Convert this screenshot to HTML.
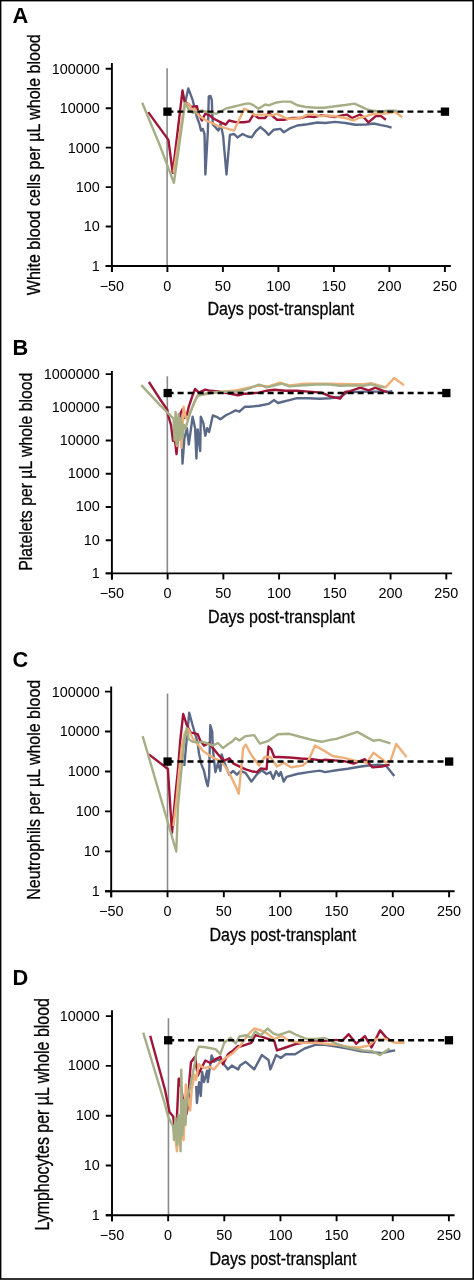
<!DOCTYPE html><html><head><meta charset="utf-8"><style>html,body{margin:0;padding:0;background:#fff;overflow:hidden;}svg{display:block;}text{filter:grayscale(1);}text{font-family:"Liberation Sans",sans-serif;}</style></head><body>
<svg width="474" height="1280" viewBox="0 0 474 1280">
<rect x="0" y="0" width="474" height="1280" fill="#fff"/>
<text transform="translate(12.5,22.60) scale(0.97,1)" x="0" y="0" font-size="22.5" font-weight="bold">A</text>
<text transform="translate(39.80,295.20) rotate(-90)" x="0" y="0" font-size="18.41" stroke="#000" stroke-width="0.3" textLength="261.00" lengthAdjust="spacingAndGlyphs">White blood cells per µL whole blood</text>
<text x="207.40" y="314.90" font-size="19" stroke="#000" stroke-width="0.3" textLength="146.80" lengthAdjust="spacingAndGlyphs">Days post-transplant</text>
<line x1="167.10" y1="68.20" x2="167.10" y2="266.00" stroke="#8a8a8a" stroke-width="1.6"/>
<polyline points="185.3,101.9 188.3,88.4 192.7,100.2 196.9,117.0 199.4,123.8 201.1,130.6 202.8,128.9 204.5,134.0 205.4,174.5 207.8,132.3 208.8,96.5 210.5,96.0 211.8,100.0 212.3,114.5 212.9,124.7 215.4,127.2 218.4,130.6 220.6,123.9 223.1,135.7 226.5,174.5 229.9,134.9 234.1,134.0 237.4,137.4 242.5,134.0 247.6,136.5 251.8,137.2 256.0,131.0 260.3,127.1 265.2,131.0 268.6,134.9 273.6,129.8 280.4,128.9 283.8,132.3 290.5,128.1 297.3,125.5 307.4,124.3 317.5,122.5 325.0,123.0 335.1,121.9 345.3,123.0 355.4,124.7 366.3,124.5 373.7,123.5 381.1,125.1 386.4,126.1 391.6,127.7" fill="none" stroke="#5b6988" stroke-width="2.4" stroke-linejoin="round"/>
<polyline points="148.2,112.1 168.4,139.9 172.7,172.8 182.5,90.5 184.6,101.9 188.4,104.0 191.0,107.0 196.9,106.1 198.6,113.7 201.9,120.4 205.3,113.7 209.5,115.4 213.8,118.8 218.9,121.4 225.6,124.7 229.0,120.5 235.8,122.2 244.2,122.2 249.3,121.4 253.4,114.6 258.4,118.0 265.2,118.0 268.6,112.9 277.0,119.7 283.8,119.7 292.2,118.0 300.6,118.0 307.4,116.3 314.1,117.1 320.9,115.4 330.0,116.3 335.1,117.1 341.9,115.4 346.9,114.6 352.0,118.0 360.0,114.5 364.2,117.7 368.4,122.4 375.8,116.1 381.1,116.1 385.8,119.8" fill="none" stroke="#9e1538" stroke-width="2.4" stroke-linejoin="round"/>
<polyline points="173.5,172.8 184.5,103.6 187.6,103.6 190.1,105.3 191.0,109.5 194.3,108.6 196.9,112.8 199.4,116.2 203.6,118.8 207.8,121.3 212.1,123.0 217.2,125.6 225.6,128.1 234.1,130.6 244.2,108.7 249.3,111.2 255.0,115.4 258.4,114.6 265.2,114.6 271.9,115.4 277.0,113.8 282.1,116.3 287.1,118.8 293.9,118.8 300.6,118.0 307.4,114.6 314.1,114.6 320.9,116.3 325.0,115.4 335.1,116.3 345.3,118.0 353.7,120.5 358.8,118.0 366.3,116.1 372.7,114.0 377.9,113.5 384.3,113.5 390.6,112.9 394.8,111.9 398.0,114.0 402.2,117.2" fill="none" stroke="#eeb07a" stroke-width="2.4" stroke-linejoin="round"/>
<polyline points="142.2,102.8 160.0,145.8 173.9,182.9 185.1,103.0 189.3,110.3 192.7,112.8 196.9,112.0 201.9,110.3 207.0,112.0 212.1,112.8 216.4,113.8 225.6,108.7 232.4,107.0 239.1,105.3 245.9,103.6 250.0,103.6 253.4,105.3 258.4,108.7 265.2,104.5 268.6,105.3 275.3,102.8 282.1,101.6 290.5,101.6 297.3,105.3 305.7,107.0 315.8,107.8 324.3,107.8 335.1,106.2 345.3,105.0 354.5,103.6 360.0,106.1 366.3,109.2 372.7,110.8 381.1,111.4 387.4,110.8 396.9,110.8" fill="none" stroke="#a5ae85" stroke-width="2.4" stroke-linejoin="round"/>
<line x1="167.40" y1="111.60" x2="444.90" y2="111.60" stroke="#000" stroke-width="2.4" stroke-dasharray="6,4"/>
<rect x="163.30" y="107.50" width="8.3" height="8.3" fill="#000"/>
<rect x="440.80" y="107.50" width="8.3" height="8.3" fill="#000"/>
<path d="M111.90,63.00V272.00M105.70,266.00H450.80" stroke="#000" stroke-width="1.9" fill="none"/>
<path d="M105.70,266.00H111.90M105.70,226.55H111.90M105.70,187.10H111.90M105.70,147.65H111.90M105.70,108.20H111.90M105.70,68.75H111.90M111.90,266.00V272.00M167.40,266.00V272.00M222.90,266.00V272.00M278.40,266.00V272.00M333.90,266.00V272.00M389.40,266.00V272.00M444.90,266.00V272.00" stroke="#000" stroke-width="1.9" fill="none"/>
<text x="91.83" y="270.90" font-size="14.2" textLength="8.02" lengthAdjust="spacingAndGlyphs">1</text>
<text x="83.81" y="231.45" font-size="14.2" textLength="16.03" lengthAdjust="spacingAndGlyphs">10</text>
<text x="75.80" y="192.00" font-size="14.2" textLength="24.05" lengthAdjust="spacingAndGlyphs">100</text>
<text x="67.78" y="152.55" font-size="14.2" textLength="32.07" lengthAdjust="spacingAndGlyphs">1000</text>
<text x="59.76" y="113.10" font-size="14.2" textLength="40.08" lengthAdjust="spacingAndGlyphs">10000</text>
<text x="51.75" y="73.65" font-size="14.2" textLength="48.10" lengthAdjust="spacingAndGlyphs">100000</text>
<text x="99.67" y="290.50" font-size="14.2" textLength="24.46" lengthAdjust="spacingAndGlyphs">−50</text>
<text x="163.39" y="290.50" font-size="14.2" textLength="8.02" lengthAdjust="spacingAndGlyphs">0</text>
<text x="214.88" y="290.50" font-size="14.2" textLength="16.03" lengthAdjust="spacingAndGlyphs">50</text>
<text x="266.37" y="290.50" font-size="14.2" textLength="24.05" lengthAdjust="spacingAndGlyphs">100</text>
<text x="321.87" y="290.50" font-size="14.2" textLength="24.05" lengthAdjust="spacingAndGlyphs">150</text>
<text x="377.37" y="290.50" font-size="14.2" textLength="24.05" lengthAdjust="spacingAndGlyphs">200</text>
<text x="432.87" y="290.50" font-size="14.2" textLength="24.05" lengthAdjust="spacingAndGlyphs">250</text>
<text transform="translate(12.5,354.80) scale(0.97,1)" x="0" y="0" font-size="22.5" font-weight="bold">B</text>
<text transform="translate(32.10,570.80) rotate(-90)" x="0" y="0" font-size="19.13" stroke="#000" stroke-width="0.3" textLength="198.10" lengthAdjust="spacingAndGlyphs">Platelets per µL whole blood</text>
<text x="208.10" y="622.80" font-size="19" stroke="#000" stroke-width="0.3" textLength="146.80" lengthAdjust="spacingAndGlyphs">Days post-transplant</text>
<line x1="167.33" y1="376.30" x2="167.33" y2="573.40" stroke="#8a8a8a" stroke-width="1.6"/>
<polyline points="181.8,435.8 182.5,463.6 184.4,438.3 186.9,428.2 188.8,444.6 192.6,416.8 195.1,428.2 196.4,458.5 197.7,429.4 200.2,451.0 200.8,416.8 203.4,423.1 205.3,435.8 207.2,428.2 209.1,432.0 212.8,415.5 216.6,416.8 220.4,419.3 225.5,415.5 230.6,413.0 235.6,410.4 239.4,411.7 245.0,406.6 249.5,406.8 259.0,405.8 268.5,403.9 274.2,400.1 278.0,403.0 281.8,402.0 289.4,400.1 297.0,398.2 308.4,398.2 319.7,398.8 330.0,398.2 340.0,397.0 346.8,392.8 356.9,391.9 367.0,391.6 377.1,391.6 389.0,391.6 392.3,391.1" fill="none" stroke="#5b6988" stroke-width="2.4" stroke-linejoin="round"/>
<polyline points="148.9,382.0 160.0,399.2 167.3,409.8 168.2,415.5 171.0,425.0 173.0,440.8 174.5,436.0 176.5,454.1 178.5,432.0 180.6,413.0 182.5,409.2 184.0,418.0 187.0,414.4 188.8,406.6 192.6,395.3 195.1,388.9 198.9,392.7 205.3,389.6 210.3,390.8 217.9,391.5 225.5,392.7 231.8,394.0 238.2,395.3 245.0,393.7 249.5,393.5 259.0,392.6 266.6,390.7 274.2,389.7 285.6,390.7 297.0,390.7 308.4,391.6 321.6,392.6 330.0,396.4 340.0,398.7 345.1,392.0 350.1,391.1 355.2,389.4 360.3,387.7 368.7,390.3 375.4,387.7 383.9,391.1 387.3,392.0" fill="none" stroke="#9e1538" stroke-width="2.4" stroke-linejoin="round"/>
<polyline points="175.0,425.0 176.9,446.0 179.0,420.0 181.5,448.0 183.6,406.8 185.6,416.8 187.5,420.0 192.0,408.0 197.7,395.3 204.0,394.5 215.0,392.5 225.0,391.5 235.6,390.4 245.0,388.5 249.5,387.4 259.0,385.5 268.5,386.4 279.9,382.6 289.4,385.5 304.6,383.6 330.0,383.6 340.0,384.0 353.5,384.3 363.6,384.3 371.2,383.2 378.8,385.4 385.6,387.4 394.0,378.1 404.1,385.2" fill="none" stroke="#eeb07a" stroke-width="2.4" stroke-linejoin="round"/>
<polyline points="141.3,385.1 160.0,405.1 173.5,418.6 174.5,440.0 175.6,411.9 177.0,445.0 178.5,414.0 179.5,440.0 181.0,418.0 182.5,438.0 184.0,425.0 185.3,428.8 188.0,420.0 190.1,413.0 195.1,400.3 197.7,395.9 204.0,394.0 210.3,392.7 217.9,392.3 225.5,391.7 233.1,391.7 240.0,391.2 249.5,388.3 259.0,384.5 266.6,387.4 274.2,385.5 281.8,383.6 289.4,386.4 300.8,385.5 316.0,384.5 330.0,384.5 340.0,385.7 353.5,385.4 363.6,385.7 371.2,384.3 378.8,386.5 384.7,387.4" fill="none" stroke="#a5ae85" stroke-width="2.4" stroke-linejoin="round"/>
<line x1="167.63" y1="393.00" x2="446.30" y2="393.00" stroke="#000" stroke-width="2.4" stroke-dasharray="6,4"/>
<rect x="163.53" y="388.90" width="8.3" height="8.3" fill="#000"/>
<rect x="442.20" y="388.90" width="8.3" height="8.3" fill="#000"/>
<path d="M111.90,371.00V579.40M105.70,573.40H452.10" stroke="#000" stroke-width="1.9" fill="none"/>
<path d="M105.70,573.40H111.90M105.70,540.18H111.90M105.70,506.96H111.90M105.70,473.74H111.90M105.70,440.52H111.90M105.70,407.30H111.90M105.70,374.08H111.90M111.90,573.40V579.40M167.63,573.40V579.40M223.37,573.40V579.40M279.10,573.40V579.40M334.83,573.40V579.40M390.57,573.40V579.40M446.30,573.40V579.40" stroke="#000" stroke-width="1.9" fill="none"/>
<text x="91.83" y="577.90" font-size="14.2" textLength="8.02" lengthAdjust="spacingAndGlyphs">1</text>
<text x="83.81" y="544.68" font-size="14.2" textLength="16.03" lengthAdjust="spacingAndGlyphs">10</text>
<text x="75.80" y="511.46" font-size="14.2" textLength="24.05" lengthAdjust="spacingAndGlyphs">100</text>
<text x="67.78" y="478.24" font-size="14.2" textLength="32.07" lengthAdjust="spacingAndGlyphs">1000</text>
<text x="59.76" y="445.02" font-size="14.2" textLength="40.08" lengthAdjust="spacingAndGlyphs">10000</text>
<text x="51.75" y="411.80" font-size="14.2" textLength="48.10" lengthAdjust="spacingAndGlyphs">100000</text>
<text x="43.73" y="378.58" font-size="14.2" textLength="56.12" lengthAdjust="spacingAndGlyphs">1000000</text>
<text x="99.67" y="597.90" font-size="14.2" textLength="24.46" lengthAdjust="spacingAndGlyphs">−50</text>
<text x="163.62" y="597.90" font-size="14.2" textLength="8.02" lengthAdjust="spacingAndGlyphs">0</text>
<text x="215.35" y="597.90" font-size="14.2" textLength="16.03" lengthAdjust="spacingAndGlyphs">50</text>
<text x="267.07" y="597.90" font-size="14.2" textLength="24.05" lengthAdjust="spacingAndGlyphs">100</text>
<text x="322.81" y="597.90" font-size="14.2" textLength="24.05" lengthAdjust="spacingAndGlyphs">150</text>
<text x="378.54" y="597.90" font-size="14.2" textLength="24.05" lengthAdjust="spacingAndGlyphs">200</text>
<text x="434.27" y="597.90" font-size="14.2" textLength="24.05" lengthAdjust="spacingAndGlyphs">250</text>
<text transform="translate(12.5,666.80) scale(0.97,1)" x="0" y="0" font-size="22.5" font-weight="bold">C</text>
<text transform="translate(40.00,899.70) rotate(-90)" x="0" y="0" font-size="18.84" stroke="#000" stroke-width="0.3" textLength="219.90" lengthAdjust="spacingAndGlyphs">Neutrophils per µL whole blood</text>
<text x="209.50" y="940.70" font-size="19" stroke="#000" stroke-width="0.3" textLength="146.70" lengthAdjust="spacingAndGlyphs">Days post-transplant</text>
<line x1="167.52" y1="693.60" x2="167.52" y2="891.30" stroke="#8a8a8a" stroke-width="1.6"/>
<polyline points="184.3,766.0 185.5,752.0 189.2,712.7 192.6,725.3 197.7,743.0 198.9,753.2 201.5,764.6 204.0,770.9 206.5,782.3 207.8,786.1 209.1,775.9 210.3,725.3 212.2,731.6 212.8,748.1 215.4,772.2 217.9,763.3 220.4,770.9 221.7,754.4 224.2,762.0 226.8,768.4 229.3,774.7 233.1,770.9 236.9,774.7 240.7,770.9 245.7,773.1 251.4,781.6 257.1,774.0 261.8,770.2 266.6,774.0 270.4,772.1 273.2,778.8 276.1,771.2 278.9,775.9 280.8,772.1 283.7,781.6 286.5,776.9 297.0,774.0 308.4,772.1 319.7,770.6 325.0,772.1 336.4,770.2 347.8,768.7 359.2,766.8 368.7,765.5 378.2,764.6 385.8,765.5 394.3,775.9" fill="none" stroke="#5b6988" stroke-width="2.4" stroke-linejoin="round"/>
<polyline points="148.9,754.4 167.9,769.0 172.0,833.0 175.5,793.8 177.9,770.3 180.2,741.0 183.2,714.0 186.9,725.3 190.7,732.9 192.6,732.9 197.7,734.2 200.2,740.5 204.0,745.6 209.1,743.0 214.1,749.4 219.2,755.7 224.2,760.8 229.3,758.2 233.1,763.3 238.2,765.8 245.7,769.3 251.4,771.2 257.1,772.1 260.9,768.4 266.6,769.3 268.5,746.5 271.3,749.4 274.2,757.0 278.0,757.0 289.4,757.5 300.8,758.5 312.1,759.2 321.6,760.4 325.0,759.8 334.5,760.4 344.0,761.1 353.5,763.6 364.9,759.2 372.5,767.4 382.0,766.5 389.6,764.6" fill="none" stroke="#9e1538" stroke-width="2.4" stroke-linejoin="round"/>
<polyline points="173.5,826.0 176.5,800.0 179.0,772.0 182.0,745.0 185.0,732.0 188.2,729.1 192.6,738.0 197.7,744.3 202.7,750.6 207.8,754.4 214.1,758.2 220.4,760.8 225.5,767.1 230.6,775.9 235.6,786.1 238.8,793.7 240.7,773.4 243.2,748.1 245.7,744.6 251.4,755.0 259.0,765.5 264.7,757.0 270.4,757.0 277.0,766.5 283.7,762.7 291.3,767.4 302.7,765.5 308.4,760.8 315.0,745.6 321.6,749.4 325.0,751.3 332.6,756.0 344.0,757.9 355.4,760.8 366.8,762.7 373.4,752.8 382.0,758.9 385.8,762.7 390.5,760.8 396.2,744.0 406.6,757.0" fill="none" stroke="#eeb07a" stroke-width="2.4" stroke-linejoin="round"/>
<polyline points="142.6,736.1 147.7,753.2 176.3,851.5 178.0,806.0 181.4,770.3 184.3,741.0 186.7,728.0 188.8,739.2 192.6,741.8 197.7,742.4 202.7,741.8 207.8,743.7 212.8,745.6 217.9,743.0 223.0,748.1 228.0,744.3 231.8,741.8 235.6,738.0 239.4,740.5 245.7,736.1 254.2,735.1 259.9,743.7 268.5,740.8 278.0,734.2 289.4,733.8 300.8,737.0 312.1,739.9 321.6,741.8 330.0,739.9 336.4,738.9 347.8,735.1 357.3,731.9 364.9,736.1 373.4,740.8 379.1,739.9 390.5,743.3" fill="none" stroke="#a5ae85" stroke-width="2.4" stroke-linejoin="round"/>
<line x1="167.52" y1="761.50" x2="449.10" y2="761.50" stroke="#000" stroke-width="2.4" stroke-dasharray="6,4"/>
<rect x="163.42" y="757.40" width="8.3" height="8.3" fill="#000"/>
<rect x="445.00" y="757.40" width="8.3" height="8.3" fill="#000"/>
<path d="M111.20,686.60V897.30M105.00,891.30H454.60" stroke="#000" stroke-width="1.9" fill="none"/>
<path d="M105.00,891.30H111.20M105.00,851.36H111.20M105.00,811.42H111.20M105.00,771.48H111.20M105.00,731.54H111.20M105.00,691.60H111.20M111.20,891.30V897.30M167.52,891.30V897.30M223.83,891.30V897.30M280.15,891.30V897.30M336.47,891.30V897.30M392.78,891.30V897.30M449.10,891.30V897.30" stroke="#000" stroke-width="1.9" fill="none"/>
<text x="91.83" y="896.20" font-size="14.2" textLength="8.02" lengthAdjust="spacingAndGlyphs">1</text>
<text x="83.81" y="856.26" font-size="14.2" textLength="16.03" lengthAdjust="spacingAndGlyphs">10</text>
<text x="75.80" y="816.32" font-size="14.2" textLength="24.05" lengthAdjust="spacingAndGlyphs">100</text>
<text x="67.78" y="776.38" font-size="14.2" textLength="32.07" lengthAdjust="spacingAndGlyphs">1000</text>
<text x="59.76" y="736.44" font-size="14.2" textLength="40.08" lengthAdjust="spacingAndGlyphs">10000</text>
<text x="51.75" y="696.50" font-size="14.2" textLength="48.10" lengthAdjust="spacingAndGlyphs">100000</text>
<text x="98.97" y="915.80" font-size="14.2" textLength="24.46" lengthAdjust="spacingAndGlyphs">−50</text>
<text x="163.51" y="915.80" font-size="14.2" textLength="8.02" lengthAdjust="spacingAndGlyphs">0</text>
<text x="215.82" y="915.80" font-size="14.2" textLength="16.03" lengthAdjust="spacingAndGlyphs">50</text>
<text x="268.12" y="915.80" font-size="14.2" textLength="24.05" lengthAdjust="spacingAndGlyphs">100</text>
<text x="324.44" y="915.80" font-size="14.2" textLength="24.05" lengthAdjust="spacingAndGlyphs">150</text>
<text x="380.76" y="915.80" font-size="14.2" textLength="24.05" lengthAdjust="spacingAndGlyphs">200</text>
<text x="437.07" y="915.80" font-size="14.2" textLength="24.05" lengthAdjust="spacingAndGlyphs">250</text>
<text transform="translate(12.5,985.00) scale(0.97,1)" x="0" y="0" font-size="22.5" font-weight="bold">D</text>
<text transform="translate(48.80,1230.60) rotate(-90)" x="0" y="0" font-size="19.57" stroke="#000" stroke-width="0.3" textLength="232.60" lengthAdjust="spacingAndGlyphs">Lymphocytes per µL whole blood</text>
<text x="209.50" y="1264.60" font-size="19" stroke="#000" stroke-width="0.3" textLength="146.90" lengthAdjust="spacingAndGlyphs">Days post-transplant</text>
<line x1="168.45" y1="1018.20" x2="168.45" y2="1215.30" stroke="#8a8a8a" stroke-width="1.6"/>
<polyline points="196.2,1086.0 196.9,1103.0 199.1,1082.3 200.8,1096.0 202.1,1071.9 204.0,1082.0 207.2,1070.6 207.8,1082.0 211.6,1055.4 214.1,1061.8 217.9,1059.2 223.0,1063.0 228.0,1069.4 231.8,1065.6 238.2,1069.4 240.0,1065.6 245.7,1061.8 254.2,1069.4 261.8,1055.1 268.5,1059.9 270.4,1069.4 276.1,1055.1 280.8,1058.0 285.6,1054.2 295.1,1054.2 304.6,1048.5 316.0,1044.7 325.0,1044.7 336.4,1046.6 347.8,1048.5 361.1,1051.3 372.5,1052.3 382.0,1053.2 389.6,1051.3 395.2,1050.4" fill="none" stroke="#5b6988" stroke-width="2.4" stroke-linejoin="round"/>
<polyline points="150.2,1035.8 165.0,1089.7 169.5,1112.0 173.2,1116.4 174.3,1126.1 176.9,1117.9 178.7,1078.6 179.8,1078.6 183.0,1100.0 186.5,1114.2 188.0,1106.0 189.5,1078.6 191.0,1062.2 195.1,1056.7 197.7,1075.7 200.2,1070.6 205.3,1060.5 210.3,1063.0 215.4,1059.2 220.4,1056.7 223.0,1064.3 228.0,1054.2 233.1,1050.4 238.2,1045.9 240.0,1046.6 251.4,1042.8 255.2,1035.2 262.8,1037.1 274.2,1040.9 277.0,1050.4 285.6,1047.5 297.0,1043.7 310.2,1041.8 325.0,1040.9 336.4,1039.9 342.1,1040.9 348.7,1034.2 356.3,1043.7 364.9,1036.1 371.5,1047.5 380.1,1030.4 385.8,1037.1 389.6,1039.9" fill="none" stroke="#9e1538" stroke-width="2.4" stroke-linejoin="round"/>
<polyline points="173.5,1128.0 175.4,1138.0 176.9,1151.3 179.1,1126.8 181.0,1135.0 183.6,1140.2 185.8,1084.5 187.5,1095.0 190.2,1110.5 191.7,1089.7 194.7,1074.8 196.0,1080.0 198.9,1064.3 204.0,1068.1 209.1,1066.8 214.1,1069.4 219.2,1063.0 225.5,1058.0 233.1,1052.9 240.0,1046.0 247.6,1035.2 254.2,1028.5 260.9,1030.4 266.6,1033.3 274.2,1039.0 281.8,1036.1 289.4,1040.9 300.8,1042.8 316.0,1042.8 325.0,1043.7 336.4,1044.7 347.8,1046.6 359.2,1047.5 368.7,1045.6 376.3,1039.0 385.8,1039.0 395.2,1042.8 404.7,1042.8" fill="none" stroke="#eeb07a" stroke-width="2.4" stroke-linejoin="round"/>
<polyline points="143.2,1032.7 165.0,1104.5 168.0,1116.4 173.2,1126.8 174.0,1140.0 175.5,1118.0 177.0,1145.0 178.5,1115.0 180.6,1151.3 181.3,1069.7 182.5,1135.0 184.0,1100.0 185.5,1125.0 187.0,1098.0 189.5,1089.7 194.7,1063.7 196.5,1052.0 198.9,1046.6 205.3,1047.2 215.4,1049.1 220.4,1054.2 224.2,1042.8 230.6,1037.7 235.6,1043.4 239.4,1036.5 245.7,1035.2 251.4,1038.0 255.2,1031.4 260.9,1035.2 267.5,1028.5 273.2,1033.3 278.0,1035.2 283.7,1033.3 289.4,1031.4 297.0,1035.2 306.5,1039.0 316.0,1039.0 325.0,1038.0 334.5,1042.8 344.0,1046.6 353.5,1048.5 363.0,1050.4 372.5,1051.3 380.1,1055.1 389.6,1048.5" fill="none" stroke="#a5ae85" stroke-width="2.4" stroke-linejoin="round"/>
<line x1="168.15" y1="1040.20" x2="448.90" y2="1040.20" stroke="#000" stroke-width="2.4" stroke-dasharray="6,4"/>
<rect x="164.05" y="1036.10" width="8.3" height="8.3" fill="#000"/>
<rect x="444.80" y="1036.10" width="8.3" height="8.3" fill="#000"/>
<path d="M112.00,1010.20V1221.30M105.80,1215.30H454.60" stroke="#000" stroke-width="1.9" fill="none"/>
<path d="M105.80,1215.30H112.00M105.80,1165.50H112.00M105.80,1115.70H112.00M105.80,1065.90H112.00M105.80,1016.10H112.00M112.00,1215.30V1221.30M168.15,1215.30V1221.30M224.30,1215.30V1221.30M280.45,1215.30V1221.30M336.60,1215.30V1221.30M392.75,1215.30V1221.30M448.90,1215.30V1221.30" stroke="#000" stroke-width="1.9" fill="none"/>
<text x="91.83" y="1219.80" font-size="14.2" textLength="8.02" lengthAdjust="spacingAndGlyphs">1</text>
<text x="83.81" y="1170.00" font-size="14.2" textLength="16.03" lengthAdjust="spacingAndGlyphs">10</text>
<text x="75.80" y="1120.20" font-size="14.2" textLength="24.05" lengthAdjust="spacingAndGlyphs">100</text>
<text x="67.78" y="1070.40" font-size="14.2" textLength="32.07" lengthAdjust="spacingAndGlyphs">1000</text>
<text x="59.76" y="1020.60" font-size="14.2" textLength="40.08" lengthAdjust="spacingAndGlyphs">10000</text>
<text x="99.77" y="1239.80" font-size="14.2" textLength="24.46" lengthAdjust="spacingAndGlyphs">−50</text>
<text x="164.14" y="1239.80" font-size="14.2" textLength="8.02" lengthAdjust="spacingAndGlyphs">0</text>
<text x="216.28" y="1239.80" font-size="14.2" textLength="16.03" lengthAdjust="spacingAndGlyphs">50</text>
<text x="268.42" y="1239.80" font-size="14.2" textLength="24.05" lengthAdjust="spacingAndGlyphs">100</text>
<text x="324.57" y="1239.80" font-size="14.2" textLength="24.05" lengthAdjust="spacingAndGlyphs">150</text>
<text x="380.72" y="1239.80" font-size="14.2" textLength="24.05" lengthAdjust="spacingAndGlyphs">200</text>
<text x="436.87" y="1239.80" font-size="14.2" textLength="24.05" lengthAdjust="spacingAndGlyphs">250</text>
<rect x="0.6" y="0.6" width="472.6" height="1278.4" fill="none" stroke="#000" stroke-width="1.6"/>
</svg></body></html>
